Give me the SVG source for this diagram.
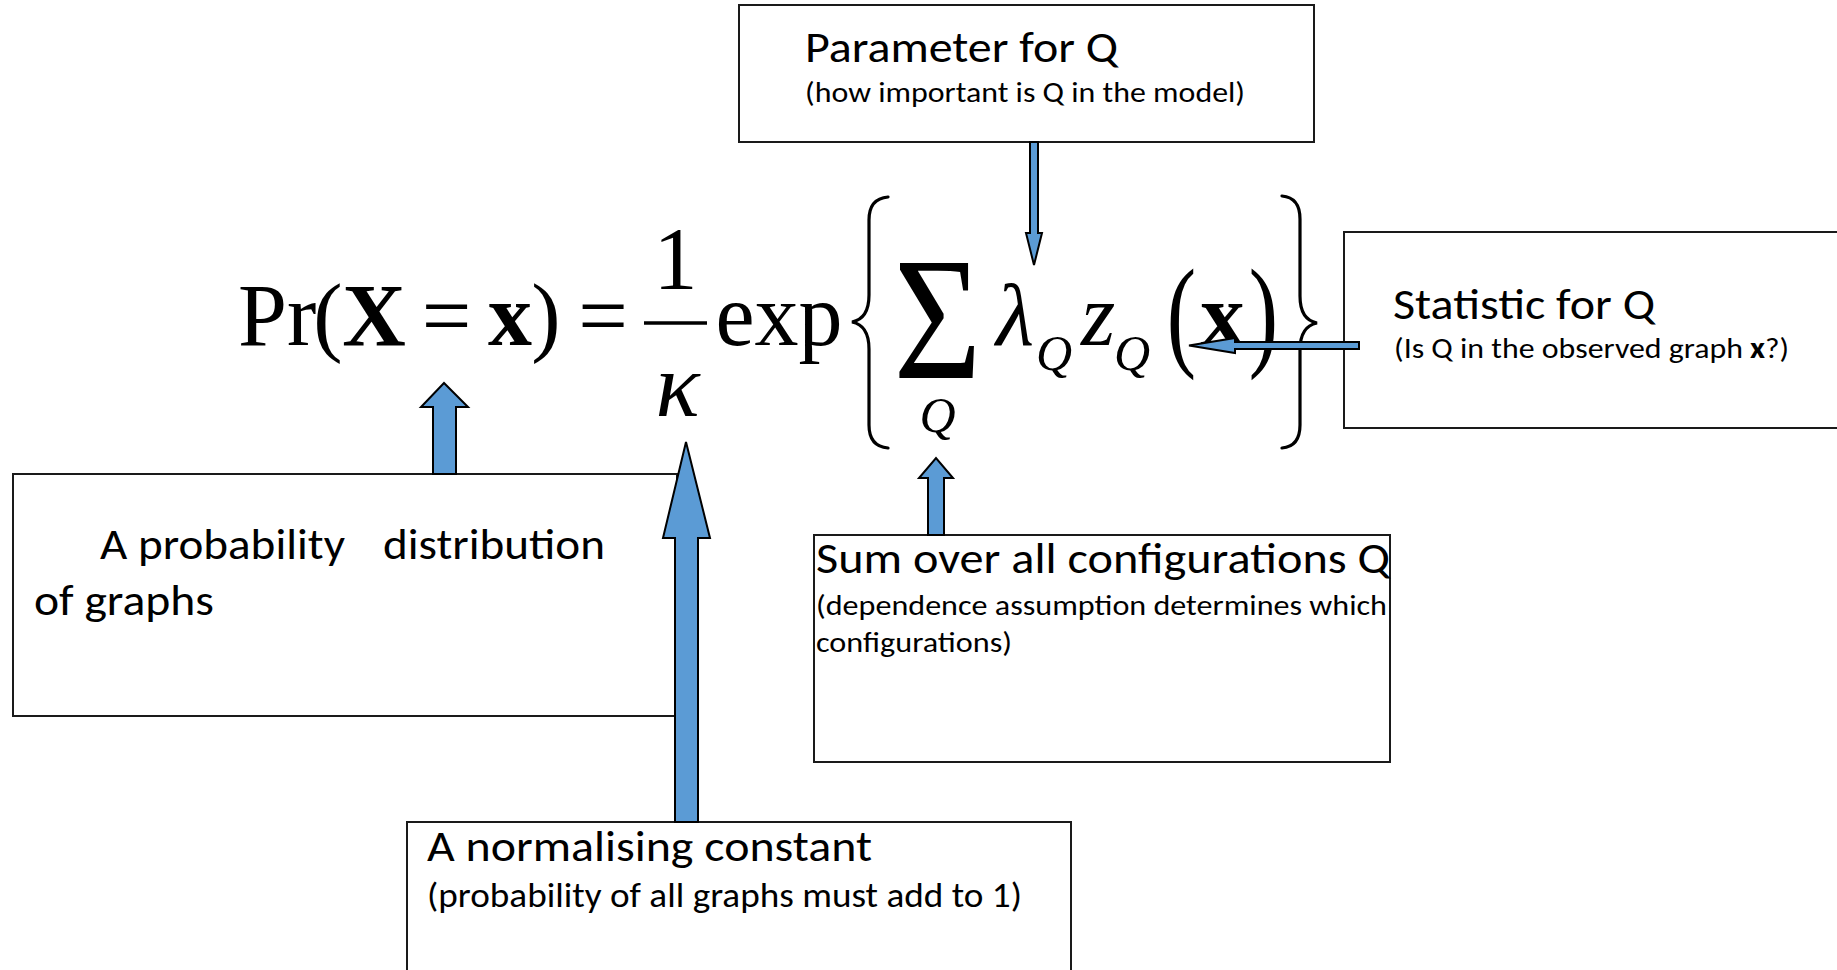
<svg xmlns="http://www.w3.org/2000/svg" width="1837" height="970" viewBox="0 0 1837 970">
<style>
.box{fill:#fff;stroke:#1a1a1a;stroke-width:2}
.t{font-family:Carlito,Lato,"Open Sans",sans-serif;fill:#000}
.big{font-size:44px}
.sub{font-size:29.5px}
.sub2{font-size:34px}
.m{font-family:"Liberation Serif","Times New Roman",serif;fill:#000}
.arr{fill:#5b9bd5;stroke:#000;stroke-width:2;stroke-linejoin:miter}
.brace{fill:none;stroke:#000;stroke-width:3.2;stroke-linecap:round}
</style>
<rect width="1837" height="970" fill="#fff"/>
<g id="formula">
<text class="m" x="238" y="345" font-size="88">Pr</text>
<text class="m" x="328" y="345" font-size="88" text-anchor="middle">(</text>
<text class="m" x="374" y="345" font-size="88" font-weight="bold" text-anchor="middle">X</text>
<text class="m" x="446.5" y="345" font-size="88" text-anchor="middle">=</text>
<text class="m" x="510" y="345" font-size="88" font-weight="bold" text-anchor="middle">x</text>
<text class="m" x="546" y="345" font-size="88" text-anchor="middle">)</text>
<text class="m" x="603" y="345" font-size="88" text-anchor="middle">=</text>
<text class="m" x="675.5" y="288" font-size="88" text-anchor="middle">1</text>
<line x1="644" y1="323" x2="707" y2="323" stroke="#000" stroke-width="3.5"/>
<text class="m" x="677.5" y="416" font-size="92" font-style="italic" text-anchor="middle">κ</text>
<text class="m" x="779" y="345" font-size="88" text-anchor="middle">exp</text>
<path class="brace" d="M888,197 C876,198 869,205 869,220 L869,295 C869,312 862,320 852,322 C862,324 869,332 869,349 L869,425 C869,440 876,447 888,448"/>
<text class="m" font-size="176" text-anchor="middle" transform="translate(937.5,378) scale(0.86,1)" x="0" y="0">Σ</text>
<text class="m" x="937.5" y="432" font-size="50" font-style="italic" text-anchor="middle">Q</text>
<text class="m" x="1015" y="345" font-size="88" font-style="italic" text-anchor="middle">λ</text>
<text class="m" x="1054" y="370" font-size="50" font-style="italic" text-anchor="middle">Q</text>
<text class="m" x="1098" y="345" font-size="88" font-style="italic" text-anchor="middle">z</text>
<text class="m" x="1132" y="370" font-size="50" font-style="italic" text-anchor="middle">Q</text>
<text class="m" font-size="88" text-anchor="middle" transform="translate(1181.5,354) scale(1,1.39)" x="0" y="0">(</text>
<text class="m" x="1222.5" y="345" font-size="88" font-weight="bold" text-anchor="middle">x</text>
<text class="m" font-size="88" text-anchor="middle" transform="translate(1263.5,354) scale(1,1.39)" x="0" y="0">)</text>
<path class="brace" d="M1282,196 C1294,197 1300,204 1300,219 L1300,296 C1300,313 1307,321 1317,323 C1307,325 1300,333 1300,350 L1300,425 C1300,440 1294,447 1282,448"/>
</g>
<g id="node-parameter">
<rect class="box" x="739" y="5" width="575" height="137"/>
<text class="t big" x="805" y="62" textLength="313" lengthAdjust="spacingAndGlyphs">Parameter for Q</text>
<text class="t sub" x="805" y="102" textLength="440" lengthAdjust="spacingAndGlyphs">(how important is Q in the model)</text>
</g>
<g id="node-statistic">
<rect class="box" x="1344" y="232" width="520" height="196"/>
<text class="t big" x="1393" y="319" textLength="262" lengthAdjust="spacingAndGlyphs">Statistic for Q</text>
<text class="t sub" x="1394" y="358" textLength="349" lengthAdjust="spacingAndGlyphs">(Is Q in the observed graph</text>
<text class="t sub" x="1750" y="358" font-weight="bold" textLength="15" lengthAdjust="spacingAndGlyphs">x</text>
<text class="t sub" x="1765" y="358" textLength="24" lengthAdjust="spacingAndGlyphs">?)</text>
</g>
<g id="node-probability">
<rect class="box" x="13" y="474" width="664" height="242"/>
<text class="t big" x="100" y="559" textLength="245" lengthAdjust="spacingAndGlyphs">A probability</text>
<text class="t big" x="383" y="559" textLength="222" lengthAdjust="spacingAndGlyphs">distribution</text>
<text class="t big" x="34" y="615" textLength="180" lengthAdjust="spacingAndGlyphs">of graphs</text>
</g>
<g id="node-sum">
<rect class="box" x="814" y="535" width="576" height="227"/>
<text class="t big" x="816" y="573" textLength="574" lengthAdjust="spacingAndGlyphs">Sum over all configurations Q</text>
<text class="t sub" x="816" y="615" textLength="571" lengthAdjust="spacingAndGlyphs">(dependence assumption determines which</text>
<text class="t sub" x="816" y="652" textLength="196" lengthAdjust="spacingAndGlyphs">configurations)</text>
</g>
<g id="node-normalising">
<rect class="box" x="407" y="822" width="664" height="160"/>
<text class="t big" x="427" y="861" textLength="445" lengthAdjust="spacingAndGlyphs">A normalising constant</text>
<text class="t sub2" x="427" y="907" textLength="595" lengthAdjust="spacingAndGlyphs">(probability of all graphs must add to 1)</text>
</g>
<g id="connectors">
<polygon class="arr" points="1030,142 1038,142 1038,233 1042,233 1034,265 1026,233 1030,233"/>
<polygon class="arr" points="1359,342 1359,349 1235,349 1235,353 1189,345.5 1235,338 1235,342"/>
<polygon class="arr" points="433,474 433,407 421,407 444,383 468,407 456,407 456,474"/>
<polygon class="arr" points="675,822 675,538 663,538 686,442 710,538 698,538 698,822"/>
<polygon class="arr" points="928,535 928,478 919,478 936,458 953,478 944,478 944,535"/>
</g>
</svg>
